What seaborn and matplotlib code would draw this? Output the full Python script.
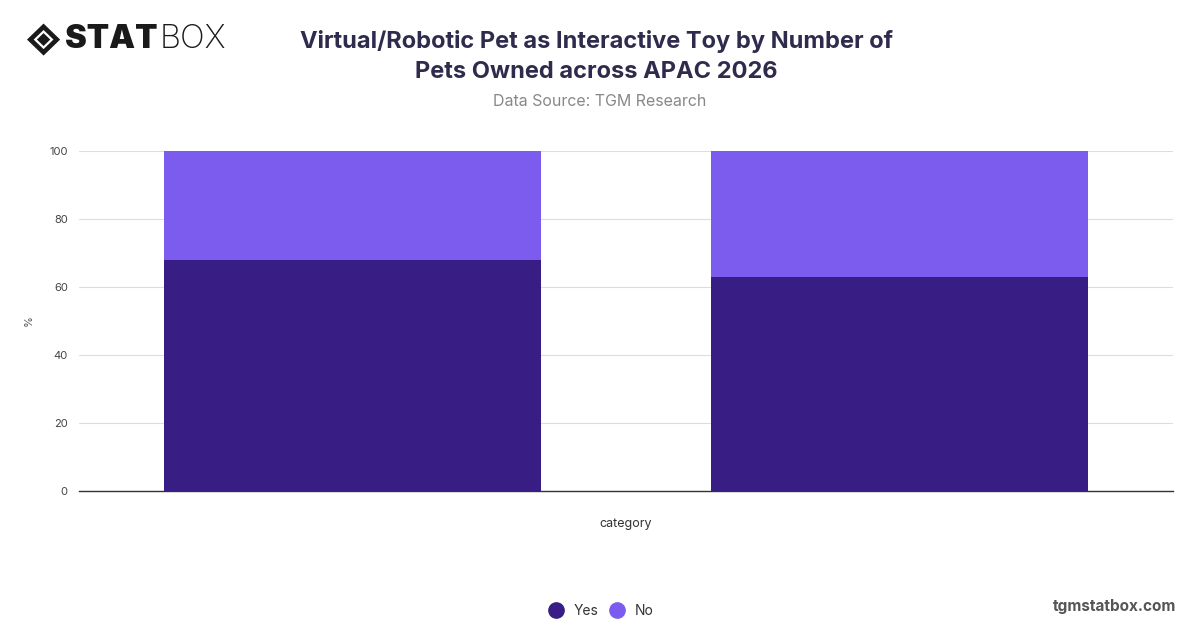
import matplotlib
matplotlib.use("Agg")
import matplotlib.pyplot as plt
from matplotlib.patches import Polygon
import seaborn as sns
import pandas as pd

# Data
categories = ["Group 1", "Group 2"]
tick_labels = ["", ""]
yes_values = [68, 63]
no_values = [32, 37]

yes_color = "#371d84"
no_color = "#7b5cee"

df = pd.DataFrame({"category": categories, "Yes": yes_values, "No": no_values})
df["total"] = df["Yes"] + df["No"]

sns.set_theme(style="white")
plt.rcParams["font.family"] = ["Inter", "DejaVu Sans"]

fig = plt.figure(figsize=(12, 6.28), dpi=100)
ax = fig.add_axes([0.0658, 0.2182, 0.9117, 0.5414])

# stacked bars: total first (No colour), then Yes on top of it
sns.barplot(data=df, x="category", y="total", color=no_color, width=0.69,
            saturation=1, linewidth=0, ax=ax, zorder=2)
sns.barplot(data=df, x="category", y="Yes", color=yes_color, width=0.69,
            saturation=1, linewidth=0, ax=ax, zorder=3)

ax.set_ylim(0, 100)
ax.set_xlim(-0.5, 1.5)
ax.set_yticks([0, 20, 40, 60, 80, 100])
ax.set_xticks(range(len(categories)))
ax.set_xticklabels(tick_labels)
ax.tick_params(axis="y", labelsize=8, colors="#444444", length=0, pad=8)
ax.tick_params(axis="x", length=0)
ax.yaxis.grid(True, color="#dddddd", linewidth=0.8, zorder=0)
ax.set_axisbelow(True)
for side in ["left", "right", "top"]:
    ax.spines[side].set_visible(False)
ax.spines["bottom"].set_color("#333333")
ax.spines["bottom"].set_linewidth(1.0)
ax.set_ylabel("%", fontsize=8, color="#555555")
ax.yaxis.set_label_coords(-0.041, 0.5)
ax.set_xlabel("category", fontsize=9, color="#333333", labelpad=16)

# title block
fig.text(0.497, 0.934, "Virtual/Robotic Pet as Interactive Toy by Number of",
         ha="center", va="center", fontsize=17, fontweight="bold", color="#2e2b4d")
fig.text(0.497, 0.886, "Pets Owned across APAC 2026",
         ha="center", va="center", fontsize=17, fontweight="bold", color="#2e2b4d")
fig.text(0.5, 0.838, "Data Source: TGM Research", ha="center", va="center",
         fontsize=11.5, color="#888888")

# logo: diamond icon plus wordmark
cx, cy, rx, ry = 0.0363, 0.937, 0.0138, 0.0255
fig.add_artist(Polygon([(cx - rx, cy), (cx, cy + ry), (cx + rx, cy), (cx, cy - ry)],
                       closed=True, transform=fig.transFigure, facecolor="#1a1a1a",
                       edgecolor="none"))
fig.add_artist(Polygon([(cx - rx * 0.5, cy), (cx, cy + ry * 0.5), (cx + rx * 0.5, cy),
                        (cx, cy - ry * 0.5)], closed=True, transform=fig.transFigure,
                       facecolor="none", edgecolor="white", linewidth=1.6))
fig.text(0.054, 0.937, "STAT", ha="left", va="center", fontsize=23.5,
         fontweight="black", color="#1a1a1a")
fig.text(0.133, 0.937, "BOX", ha="left", va="center", fontsize=23.5,
         fontweight="light", color="#1a1a1a")

# legend
handles = [plt.Line2D([], [], marker="o", linestyle="", markersize=11,
                      markerfacecolor=c, markeredgecolor=c) for c in [yes_color, no_color]]
fig.legend(handles, ["Yes", "No"], loc="center", bbox_to_anchor=(0.498, 0.027),
           ncol=2, frameon=False, fontsize=10, handletextpad=0.3, columnspacing=0.3,
           labelcolor="#333333")

fig.text(0.98, 0.035, "tgmstatbox.com", ha="right", va="center", fontsize=11,
         fontweight="bold", color="#555555")

fig.savefig("out.png", dpi=100)
